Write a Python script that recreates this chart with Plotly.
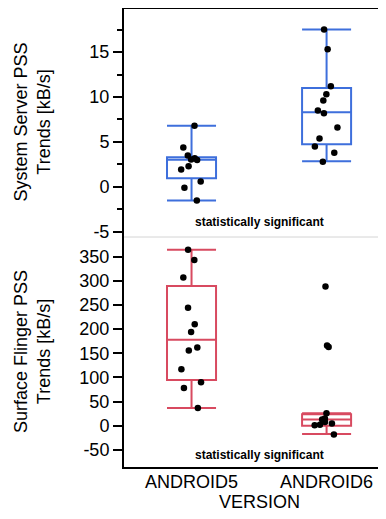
import plotly.graph_objects as go

categories = ["ANDROID5", "ANDROID6"]

# System Server PSS Trends [kB/s] sample points
ss_android5 = [6.8, 4.4, 3.5, 3.2, 3.05, 3.0, 2.3, 1.95, 0.6, -0.1, -1.5]
ss_android6 = [17.5, 15.3, 11.2, 10.3, 9.6, 8.5, 8.2, 6.6, 5.4, 4.5, 3.8, 2.8]
# box statistics
ss_q1 = [0.96, 4.74]
ss_median = [3.03, 8.3]
ss_q3 = [3.3, 11.0]
ss_lower = [-1.5, 2.85]
ss_upper = [6.8, 17.5]

# Surface Flinger PSS Trends [kB/s] sample points
sf_android5 = [364, 343, 307, 244, 210, 194, 162, 156, 117, 90, 78, 37]
sf_android6 = [288, 166, 163, 26, 15, 13, 8, 5, 2, 1, -18]
sf_q1 = [95, 0]
sf_median = [178, 13]
sf_q3 = [289, 24]
sf_lower = [37, -17]
sf_upper = [364, 26]

ss_tickvals = [-5, 0, 5, 10, 15]
ss_ticktext = ["-5", "0", "5", "10", "15"]
sf_tickvals = [-50, 0, 50, 100, 150, 200, 250, 300, 350]
sf_ticktext = ["-50", "0", "50", "100", "150", "200", "250", "300", "350"]

note_text = "statistically significant"

BLUE = "#3E6FDC"
RED = "#D84A60"
FONT = "Liberation Sans, Arial, sans-serif"

fig = go.Figure()

fig.add_trace(go.Box(
    x=categories, y=[ss_android5, ss_android6],
    q1=ss_q1, median=ss_median, q3=ss_q3,
    lowerfence=ss_lower, upperfence=ss_upper,
    boxpoints="all", jitter=0.5, pointpos=0,
    width=0.363, whiskerwidth=1,
    line=dict(color=BLUE, width=2), fillcolor="rgba(0,0,0,0)",
    marker=dict(color="black", size=6.5),
    xaxis="x", yaxis="y", showlegend=False,
))
fig.add_trace(go.Box(
    x=categories, y=[sf_android5, sf_android6],
    q1=sf_q1, median=sf_median, q3=sf_q3,
    lowerfence=sf_lower, upperfence=sf_upper,
    boxpoints="all", jitter=0.5, pointpos=0,
    width=0.363, whiskerwidth=1,
    line=dict(color=RED, width=2), fillcolor="rgba(0,0,0,0)",
    marker=dict(color="black", size=6.5),
    xaxis="x2", yaxis="y2", showlegend=False,
))

split = 230 / 459

axis_common = dict(showgrid=False, zeroline=False, ticks="outside",
                   tickcolor="black", tickwidth=1.5, ticklen=9,
                   showline=True, linecolor="black", linewidth=2,
                   tickfont=dict(size=18, color="black", family=FONT))

fig.update_layout(
    width=378, height=511,
    margin=dict(l=116, r=0, t=0, b=52),
    paper_bgcolor="white", plot_bgcolor="white",
    font=dict(family=FONT, color="black"),
    xaxis=dict(domain=[0, 1], anchor="y", type="category",
               categoryorder="array", categoryarray=categories,
               range=[-0.5, 1.44], showticklabels=False, ticks="",
               showgrid=False, zeroline=False, showline=False),
    yaxis=dict(domain=[split, 1], anchor="x", range=[-5.56, 19.89],
               tickvals=ss_tickvals, ticktext=ss_ticktext,
               minor=dict(dtick=2.5, tick0=0, ticks="outside", ticklen=5,
                          tickwidth=1.5, tickcolor="black", showgrid=False),
               **axis_common),
    xaxis2=dict(domain=[0, 1], anchor="y2", type="category",
                categoryorder="array", categoryarray=categories,
                range=[-0.5, 1.44], ticks="", showgrid=False, zeroline=False,
                showline=True, linecolor="black", linewidth=2,
                ticklabelstandoff=-3,
                tickfont=dict(size=18, color="black", family=FONT)),
    yaxis2=dict(domain=[0, split], anchor="x2", range=[-85.2, 390.6],
                tickvals=sf_tickvals, ticktext=sf_ticktext,
                **axis_common),
    shapes=[
        dict(type="line", xref="paper", yref="paper", x0=0, x1=1, y0=1, y1=1,
             line=dict(color="black", width=2)),
        dict(type="line", xref="paper", yref="paper", x0=0, x1=1,
             y0=split, y1=split, line=dict(color="#d4d4d4", width=1)),
    ],
    annotations=[
        dict(text="System Server PSS<br>Trends [kB/s]", textangle=-90,
             xref="paper", yref="paper", x=0, y=(1 + split) / 2,
             xanchor="center", yanchor="middle", xshift=-92, showarrow=False,
             font=dict(size=18, color="black", family=FONT)),
        dict(text="Surface Flinger PSS<br>Trends [kB/s]", textangle=-90,
             xref="paper", yref="paper", x=0, y=split / 2,
             xanchor="center", yanchor="middle", xshift=-92, showarrow=False,
             font=dict(size=18, color="black", family=FONT)),
        dict(text="VERSION", xref="x2", yref="paper", x=0.5, y=0,
             xanchor="center", yanchor="middle", yshift=-35, showarrow=False,
             font=dict(size=18, color="black", family=FONT)),
        dict(text="<b>" + note_text + "</b>", xref="x", yref="y", x=0.5, y=-3.9,
             xanchor="center", yanchor="middle", showarrow=False,
             font=dict(size=12, color="black", family=FONT)),
        dict(text="<b>" + note_text + "</b>", xref="x2", yref="y2", x=0.5, y=-61,
             xanchor="center", yanchor="middle", showarrow=False,
             font=dict(size=12, color="black", family=FONT)),
    ],
)

fig.write_html("out.html")
